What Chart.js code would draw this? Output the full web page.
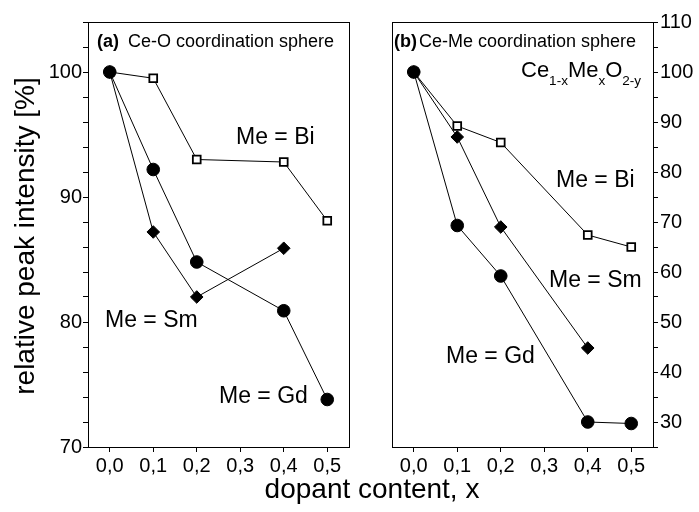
<!DOCTYPE html>
<html>
<head>
<meta charset="utf-8">
<script src="https://cdn.jsdelivr.net/npm/chart.js@4.4.0/dist/chart.umd.min.js"></script>
<style>
body { margin: 0; background: #fff; }
#wrap { position: relative; width: 699px; height: 512px; font-family: "Liberation Sans", Arial, sans-serif; }
#chart-a { position: absolute; left: 0; top: 0; }
#chart-b { position: absolute; left: 370px; top: 0; }
#x-title { position: absolute; left: 372px; top: 475px; transform: translateX(-50%); font-size: 28px; line-height: 28px; white-space: nowrap; color: #000; }
</style>
</head>
<body>
<div id="wrap">
    <canvas id="chart-a" width="370" height="512"></canvas>
    <canvas id="chart-b" width="329" height="512"></canvas>
    <div id="x-title">dopant content, x</div>
</div>
<script>
// dopant content x of the measured samples
var dopant = [0, 0.1, 0.2, 0.4, 0.5];
var dopantSm = [0, 0.1, 0.2, 0.4];

// (a) Ce-O coordination sphere, relative peak intensity [%]
var ceoBi = [100, 99.5, 93.0, 92.8, 88.1];
var ceoGd = [100, 92.2, 84.8, 80.9, 73.8];
var ceoSm = [100, 87.2, 82.0, 85.9];

// (b) Ce-Me coordination sphere
var cemeBi = [100, 89.2, 85.9, 67.4, 65.0];
var cemeSm = [100, 87.0, 69.0, 44.8];
var cemeGd = [100, 69.3, 59.2, 30.0, 29.7];

// ticks
var xTicks = [0, 0.1, 0.2, 0.3, 0.4, 0.5];
var yTicksA = [70, 72, 74, 76, 78, 80, 82, 84, 86, 88, 90, 92, 94, 96, 98, 100, 102, 104];
var yTicksB = [25, 30, 35, 40, 45, 50, 55, 60, 65, 70, 75, 80, 85, 90, 95, 100, 105, 110];

var FONT = '"Liberation Sans", Arial, sans-serif';
Chart.defaults.font.family = FONT;
Chart.defaults.color = '#000';

function points(xs, ys) {
    return xs.map(function(x, i) { return {x: x, y: ys[i]}; });
}

function series(label, xs, ys, marker) {
    var ds = {
        label: label,
        data: points(xs, ys),
        borderColor: '#000',
        borderWidth: 1,
        tension: 0,
        fill: false,
        pointBorderColor: '#000',
        pointBackgroundColor: '#000',
        pointBorderWidth: 1
    };
    if (marker == 'square') {
        ds.pointStyle = 'rect';
        ds.pointRadius = 5.5;
        ds.pointBackgroundColor = '#fff';
        ds.pointBorderWidth = 1.8;
        ds.order = 3;
    } else if (marker == 'diamond') {
        ds.pointStyle = 'rectRot';
        ds.pointRadius = 6.3;
        ds.order = 2;
    } else {
        ds.pointStyle = 'circle';
        ds.pointRadius = 6.3;
        ds.order = 1; // filled circle sits on top at x = 0
    }
    return ds;
}

// frame + free text drawn on top of each panel
function notesPlugin(notes) {
    return {
        id: 'notes',
        afterDraw: function(chart) {
            var ctx = chart.ctx;
            var a = chart.chartArea;
            ctx.save();
            ctx.strokeStyle = '#000';
            ctx.lineWidth = 1;
            ctx.strokeRect(Math.round(a.left) + 0.5, Math.round(a.top) + 0.5,
                Math.round(a.right - a.left), Math.round(a.bottom - a.top));
            ctx.fillStyle = '#000';
            ctx.textBaseline = 'alphabetic';
            notes.forEach(function(n) {
                var x = n.x;
                ctx.save();
                if (n.rotate) {
                    ctx.translate(n.x, n.y);
                    ctx.rotate(-Math.PI / 2);
                    ctx.textAlign = 'center';
                    ctx.font = n.font;
                    ctx.fillText(n.text, 0, 0);
                    ctx.restore();
                    return;
                }
                ctx.textAlign = 'left';
                (n.parts || [[n.text, n.font, 0]]).forEach(function(p) {
                    ctx.font = p[1];
                    ctx.fillText(p[0], x, n.y + p[2]);
                    x += ctx.measureText(p[0]).width + (p[3] || 0);
                });
                ctx.restore();
            });
            ctx.restore();
        }
    };
}

function panel(id, datasets, yMin, yMax, yTicks, yPos, padding, notes) {
    var tickFont = {size: 20};
    return new Chart(document.getElementById(id), {
        type: 'line',
        data: {datasets: datasets},
        options: {
            responsive: false,
            animation: false,
            layout: {padding: padding},
            plugins: {legend: {display: false}, tooltip: {enabled: false}},
            scales: {
                x: {
                    type: 'linear',
                    min: -0.05,
                    max: 0.55,
                    afterBuildTicks: function(s) {
                        s.ticks = xTicks.map(function(v) { return {value: v}; });
                    },
                    afterFit: function(s) { s.height = 65; },
                    ticks: {
                        font: tickFont,
                        padding: 2,
                        autoSkip: false,
                        maxRotation: 0,
                        callback: function(v) { return v.toFixed(1).replace('.', ','); }
                    },
                    grid: {drawOnChartArea: false, tickLength: 5, color: '#000'},
                    border: {color: '#000'}
                },
                y: {
                    type: 'linear',
                    position: yPos,
                    min: yMin,
                    max: yMax,
                    afterBuildTicks: function(s) {
                        s.ticks = yTicks.map(function(v) { return {value: v}; });
                    },
                    afterFit: function(s) { s.width = yPos == 'left' ? 88 : 46; },
                    ticks: {
                        font: tickFont,
                        padding: yPos == 'left' ? 1 : 2,
                        autoSkip: false,
                        callback: function(v) { return v % 10 === 0 ? String(v) : ''; }
                    },
                    grid: {drawOnChartArea: false, tickLength: 5, color: '#000'},
                    border: {color: '#000'}
                }
            }
        },
        plugins: [notesPlugin(notes)]
    });
}

var big = '23px ' + FONT;
var head = '18px ' + FONT;
var headBold = 'bold 18px ' + FONT;

panel('chart-a', [
    series('Me = Bi', dopant, ceoBi, 'square'),
    series('Me = Gd', dopant, ceoGd, 'circle'),
    series('Me = Sm', dopantSm, ceoSm, 'diamond')
], 70, 104, yTicksA, 'left', {left: 0, right: 21, top: 22, bottom: 0}, [
    {parts: [['(a)', headBold, 0, 9], ['Ce-O coordination sphere', head, 0]], x: 97, y: 47},
    {text: 'Me = Bi', font: big, x: 236, y: 144},
    {text: 'Me = Sm', font: big, x: 105, y: 327},
    {text: 'Me = Gd', font: big, x: 219, y: 403},
    {text: 'relative peak intensity [%]', font: '28px ' + FONT, x: 34, y: 236, rotate: true}
]);

panel('chart-b', [
    series('Me = Bi', dopant, cemeBi, 'square'),
    series('Me = Sm', dopantSm, cemeSm, 'diamond'),
    series('Me = Gd', dopant, cemeGd, 'circle')
], 25, 110, yTicksB, 'right', {left: 22, right: 0, top: 22, bottom: 0}, [
    {parts: [['(b)', headBold, 0, 2], ['Ce-Me coordination sphere', head, 0]], x: 24, y: 47},
    {parts: [['Ce', '22px ' + FONT, 0], ['1-x', '13.5px ' + FONT, 8], ['Me', '22px ' + FONT, 0],
             ['x', '13.5px ' + FONT, 8], ['O', '22px ' + FONT, 0], ['2-y', '13.5px ' + FONT, 8]], x: 151, y: 77},
    {text: 'Me = Bi', font: big, x: 186, y: 187},
    {text: 'Me = Sm', font: big, x: 179, y: 287},
    {text: 'Me = Gd', font: big, x: 76, y: 363}
]);
</script>
</body>
</html>
